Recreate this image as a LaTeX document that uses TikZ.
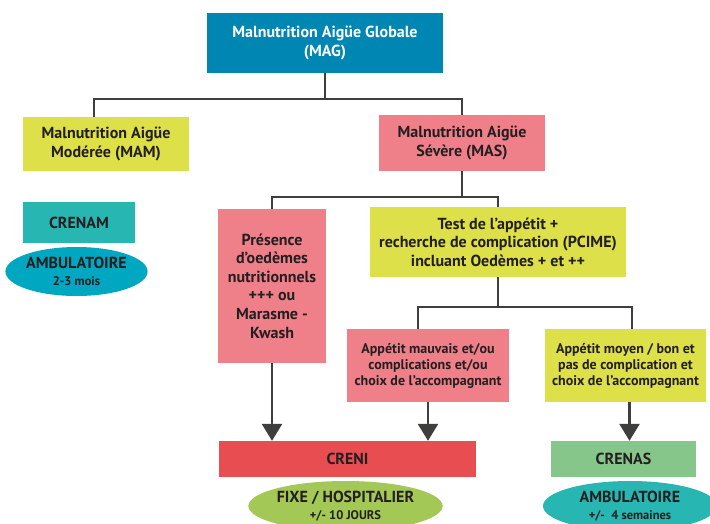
\documentclass[tikz,border=0pt]{standalone}
\usepackage{fontspec}
\setmainfont{PT Sans}
\usetikzlibrary{arrows.meta}
\usetikzlibrary{shapes.geometric}
\definecolor{magblue}{RGB}{0,134,178}
\definecolor{lime}{RGB}{222,224,74}
\definecolor{rose}{RGB}{239,128,138}
\definecolor{teal}{RGB}{39,182,178}
\definecolor{cyanell}{RGB}{0,167,192}
\definecolor{crenired}{RGB}{232,77,81}
\definecolor{crenasgreen}{RGB}{135,198,138}
\definecolor{fixegreen}{RGB}{163,200,86}
\definecolor{ink}{RGB}{35,31,32}
\definecolor{wire}{RGB}{62,62,60}
\tikzset{
  box/.style={inner sep=0pt, align=center, text=ink, font=\bfseries\fontsize{16}{18.6}\selectfont},
  smallbox/.style={box, font=\bfseries\fontsize{14}{16}\selectfont},
  oval/.style={ellipse, inner sep=0pt, align=center, text=ink, font=\bfseries\fontsize{16}{16.5}\selectfont},
  wireline/.style={wire, line width=2pt},
  arr/.style={wire, line width=2.5pt, -{Triangle[width=20pt,length=17pt]}}
}
\newcommand{\ovalsub}[1]{{\fontsize{12.5}{13}\selectfont #1}}
\begin{document}
\begin{tikzpicture}[x=1pt,y=-1pt]
          \useasboundingbox (0,0) rectangle (710,523);
          \clip (0,0) rectangle (710,523);
          % top box
          \node[box, fill=magblue, text=white, minimum width=236, minimum height=60] (mag) at (325,43) {Malnutrition Aigüe Globale\\(MAG)};
          % moderate / severe
          \node[box, fill=lime, minimum width=166, minimum height=54] (mam) at (106,144) {Malnutrition Aigüe\\Modérée (MAM)};
          \node[box, fill=rose, minimum width=166, minimum height=56] (mas) at (462,143) {Malnutrition Aigüe\\Sévère (MAS)};
          % crenam
          \node[box, fill=teal, minimum width=112, minimum height=41] (crenam) at (79,222.5) {CRENAM};
          \node[oval, fill=cyanell, minimum width=137, minimum height=49] (amb1) at (76.5,271.5) {AMBULATOIRE\\\ovalsub{2-3 mois}};
          % branches of MAS
          \node[box, fill=rose, minimum width=108, minimum height=154] (pres) at (272,286) {Présence\\d’oedèmes\\nutritionnels\\+++ ou\\Marasme -\\Kwash};
          \node[box, fill=lime, minimum width=256, minimum height=70] (test) at (498,242) {Test de l’appétit +\\recherche de complication (PCIME)\\incluant Oedèmes + et ++};
          \node[smallbox, fill=rose, minimum width=162, minimum height=73] (mauv) at (428,365.5) {Appétit mauvais et/ou\\complications et/ou\\choix de l’accompagnant};
          \node[smallbox, fill=lime, minimum width=161, minimum height=73] (moy) at (625.5,365.5) {Appétit moyen / bon et\\pas de complication et\\choix de l’accompagnant};
          % creni / crenas
          \node[box, fill=crenired, minimum width=257, minimum height=36] (creni) at (347.5,459) {CRENI};
          \node[box, fill=crenasgreen, minimum width=145, minimum height=36] (crenas) at (623.5,459) {CRENAS};
          \node[oval, fill=fixegreen, minimum width=183, minimum height=50] (fixe) at (345.5,506) {FIXE / HOSPITALIER\\\ovalsub{+/- 10 JOURS}};
          \node[oval, fill=teal, minimum width=174, minimum height=50] (amb2) at (630,506) {AMBULATOIRE\\\ovalsub{+/-\ \ 4 semaines}};
          % junctions
          \coordinate (j1) at (325,99);
          \coordinate (j2) at (462,197);
          \coordinate (j3) at (498,307);
          \draw[wireline] (mag.south) -- (j1);
          \draw[wireline] ([xshift=-12]mam.north) |- (j1) -| (mas.north);
          \draw[wireline] (mas.south) -- (j2);
          \draw[wireline] (pres.north) |- (j2) -| (test.north);
          \draw[wireline] (test.south) -- (j3);
          \draw[wireline] ([xshift=-10]mauv.north) |- (j3) -| ([xshift=6]moy.north);
          % arrows
          \draw[arr] (pres.south) -- (pres.south |- creni.north);
          \draw[arr] (mauv.south) -- (mauv.south |- creni.north);
          \draw[arr] ([xshift=4]moy.south) -- ([xshift=4]moy.south |- crenas.north);
        \end{tikzpicture}
\end{document}
